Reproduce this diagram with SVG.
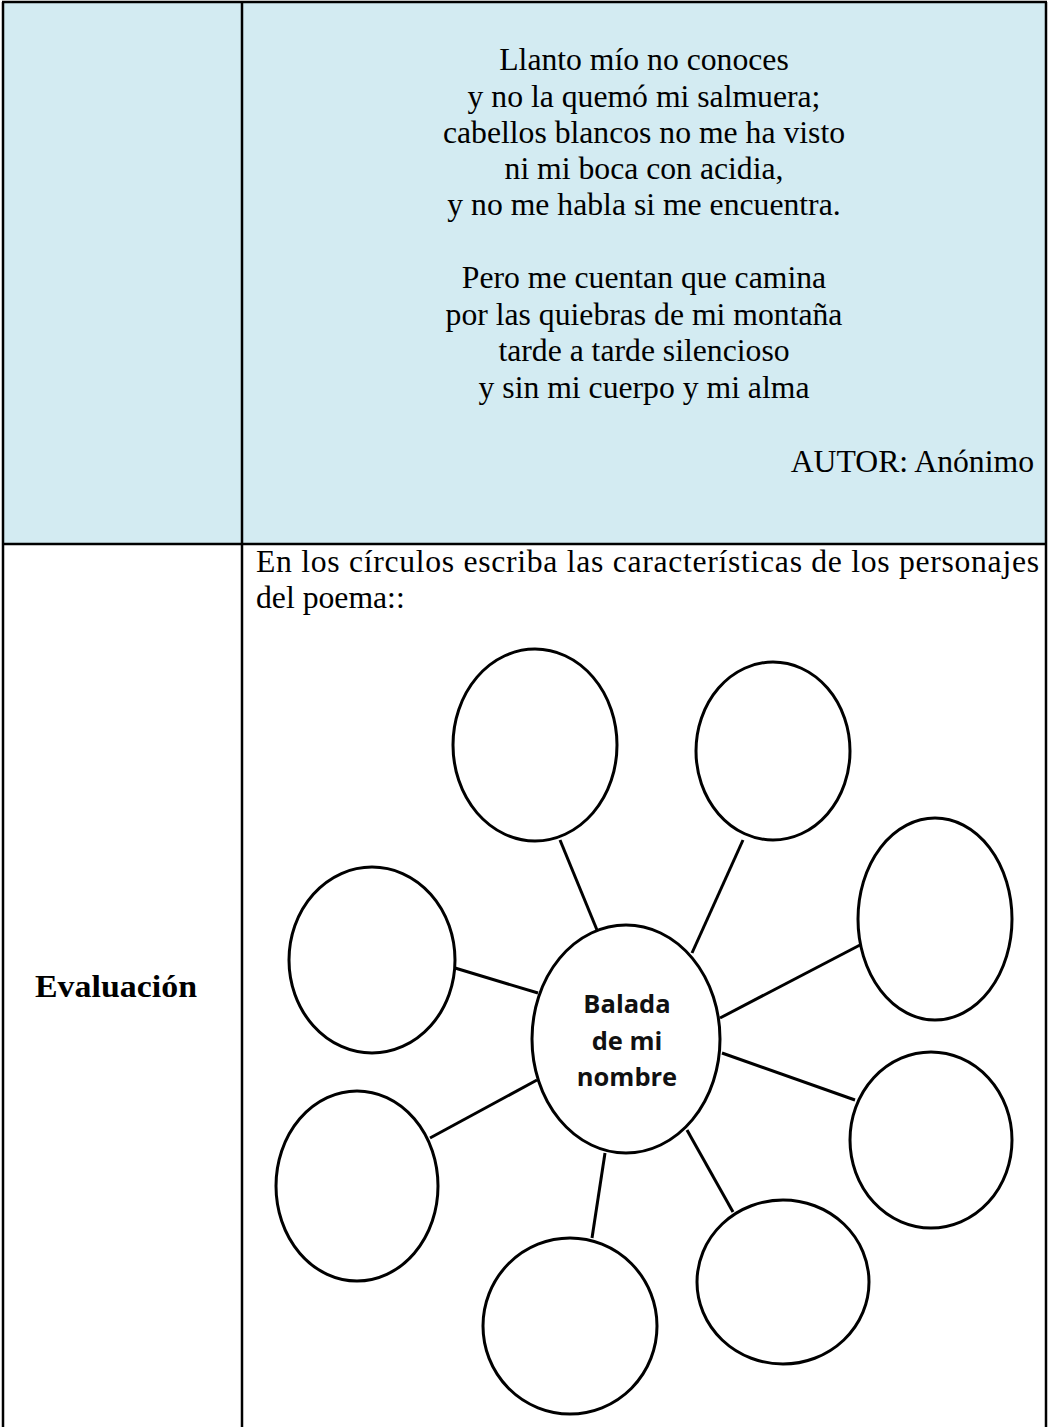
<svg xmlns="http://www.w3.org/2000/svg" width="1048" height="1427" viewBox="0 0 1048 1427">
<style>
.serif{font-family:"Liberation Serif","Times New Roman",serif;font-size:31.7px;fill:#000}
.poem{text-anchor:middle}
.bubble{fill:#fff;stroke:#000;stroke-width:3}
.conn line{stroke:#000;stroke-width:3}
.ctext{font-family:"Open Sans","Liberation Sans",sans-serif;font-weight:bold;font-size:25.5px;text-anchor:middle;fill:#111}
.border{stroke:#000;stroke-width:2.5;fill:none}
</style>
<rect x="0" y="0" width="1048" height="1427" fill="#fff"/>
<rect x="3" y="2" width="1043" height="542" fill="#D3EBF2"/>
<g id="table">
<line class="border" x1="2" y1="2" x2="1047" y2="2"/>
<line class="border" x1="3" y1="2" x2="3" y2="1427"/>
<line class="border" x1="242" y1="2" x2="242" y2="1427"/>
<line class="border" x1="1046" y1="2" x2="1046" y2="1427"/>
<line class="border" x1="3" y1="544" x2="1046" y2="544"/>
</g>
<g id="poem" class="serif poem">
<text x="644" y="70">Llanto mío no conoces</text>
<text x="644" y="107">y no la quemó mi salmuera;</text>
<text x="644" y="143">cabellos blancos no me ha visto</text>
<text x="644" y="179">ni mi boca con acidia,</text>
<text x="644" y="215">y no me habla si me encuentra.</text>
<text x="644" y="288">Pero me cuentan que camina</text>
<text x="644" y="325">por las quiebras de mi montaña</text>
<text x="644" y="361">tarde a tarde silencioso</text>
<text x="644" y="398">y sin mi cuerpo y mi alma</text>
</g>
<text class="serif" x="1034" y="472" text-anchor="end">AUTOR: Anónimo</text>
<text class="serif" x="35" y="997" font-weight="bold" textLength="162" lengthAdjust="spacingAndGlyphs">Evaluación</text>
<text class="serif" x="256" y="572" textLength="783" lengthAdjust="spacing">En los círculos escriba las características de los personajes</text>
<text class="serif" x="256" y="608">del poema::</text>
<g id="connectors" class="conn">
<line x1="560" y1="840" x2="597" y2="930"/>
<line x1="743" y1="840" x2="692" y2="953"/>
<line x1="455" y1="968" x2="538" y2="993"/>
<line x1="860" y1="945" x2="720" y2="1018"/>
<line x1="722" y1="1053" x2="855" y2="1100"/>
<line x1="687" y1="1130" x2="733" y2="1212"/>
<line x1="605" y1="1153" x2="592" y2="1238"/>
<line x1="537" y1="1080" x2="430" y2="1138"/>
</g>
<g id="node-top-left"><ellipse class="bubble" cx="535" cy="745" rx="82" ry="96"/></g>
<g id="node-top-right"><ellipse class="bubble" cx="773" cy="751" rx="77" ry="89"/></g>
<g id="node-right"><ellipse class="bubble" cx="935" cy="919" rx="77" ry="101"/></g>
<g id="node-left"><ellipse class="bubble" cx="372" cy="960" rx="83" ry="93"/></g>
<g id="node-right-lower"><ellipse class="bubble" cx="931" cy="1140" rx="81" ry="88"/></g>
<g id="node-lower-left"><ellipse class="bubble" cx="357" cy="1186" rx="81" ry="95"/></g>
<g id="node-bottom"><ellipse class="bubble" cx="570" cy="1326" rx="87" ry="88"/></g>
<g id="node-lower-right"><ellipse class="bubble" cx="783" cy="1282" rx="86" ry="82"/></g>
<g id="node-center">
<ellipse class="bubble" cx="626" cy="1039" rx="94" ry="114"/>
<text class="ctext" x="627" y="1013">Balada</text>
<text class="ctext" x="627" y="1050">de mi</text>
<text class="ctext" x="627" y="1086">nombre</text>
</g>
</svg>
